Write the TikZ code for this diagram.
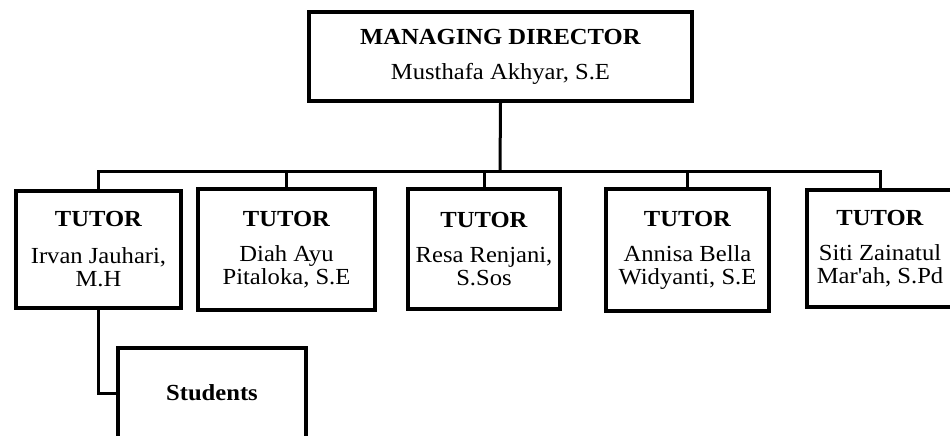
\documentclass[tikz,border=0pt]{standalone}
\usepackage{fontspec}
\setmainfont[FakeStretch=1.07]{Liberation Serif}
\begin{document}
\begin{tikzpicture}[x=1pt,y=-1pt,
  box/.style={draw=black, line width=3.4pt, rectangle, inner sep=0pt, align=center,
    font=\fontsize{23}{23}\selectfont},
  conn/.style={draw=black, line width=3pt}]
\useasboundingbox (0,0) rectangle (950,436);
\node[box, minimum width=383, minimum height=89] (md) at (500.5,56.5)
  {\textbf{MANAGING DIRECTOR}\\[12pt]Musthafa Akhyar, S.E};
\node[box, minimum width=165, minimum height=117] (t1) at (98.5,249.5)
  {\textbf{TUTOR}\\[14pt]Irvan Jauhari,\\M.H};
\node[box, minimum width=177, minimum height=121] (t2) at (286.5,249.5)
  {\textbf{TUTOR}\\[12pt]Diah Ayu\\Pitaloka, S.E};
\node[box, minimum width=152, minimum height=120] (t3) at (484,249)
  {\textbf{TUTOR}\\[12pt]Resa Renjani,\\S.Sos};
\node[box, minimum width=163, minimum height=122] (t4) at (687.5,250)
  {\textbf{TUTOR}\\[12pt]Annisa Bella\\Widyanti, S.E};
\node[box, minimum width=146, minimum height=117] (t5) at (880,248.5)
  {\textbf{TUTOR}\\[12pt]Siti Zainatul\\Mar\textquotesingle ah, S.Pd};
\node[box, minimum width=188, minimum height=90] (stu) at (212,393)
  {\textbf{Students}};
\coordinate (bus) at (500,171);
\draw[conn] (md.south) -- (bus);
\draw[conn] (t1.north) |- (bus);
\draw[conn] (t2.north) |- (bus);
\draw[conn] (t3.north) |- (bus);
\draw[conn] (t4.north) |- (bus);
\draw[conn] (t5.north) |- (bus);
\draw[conn] (t1.south) |- (stu.west);
\end{tikzpicture}
\end{document}
